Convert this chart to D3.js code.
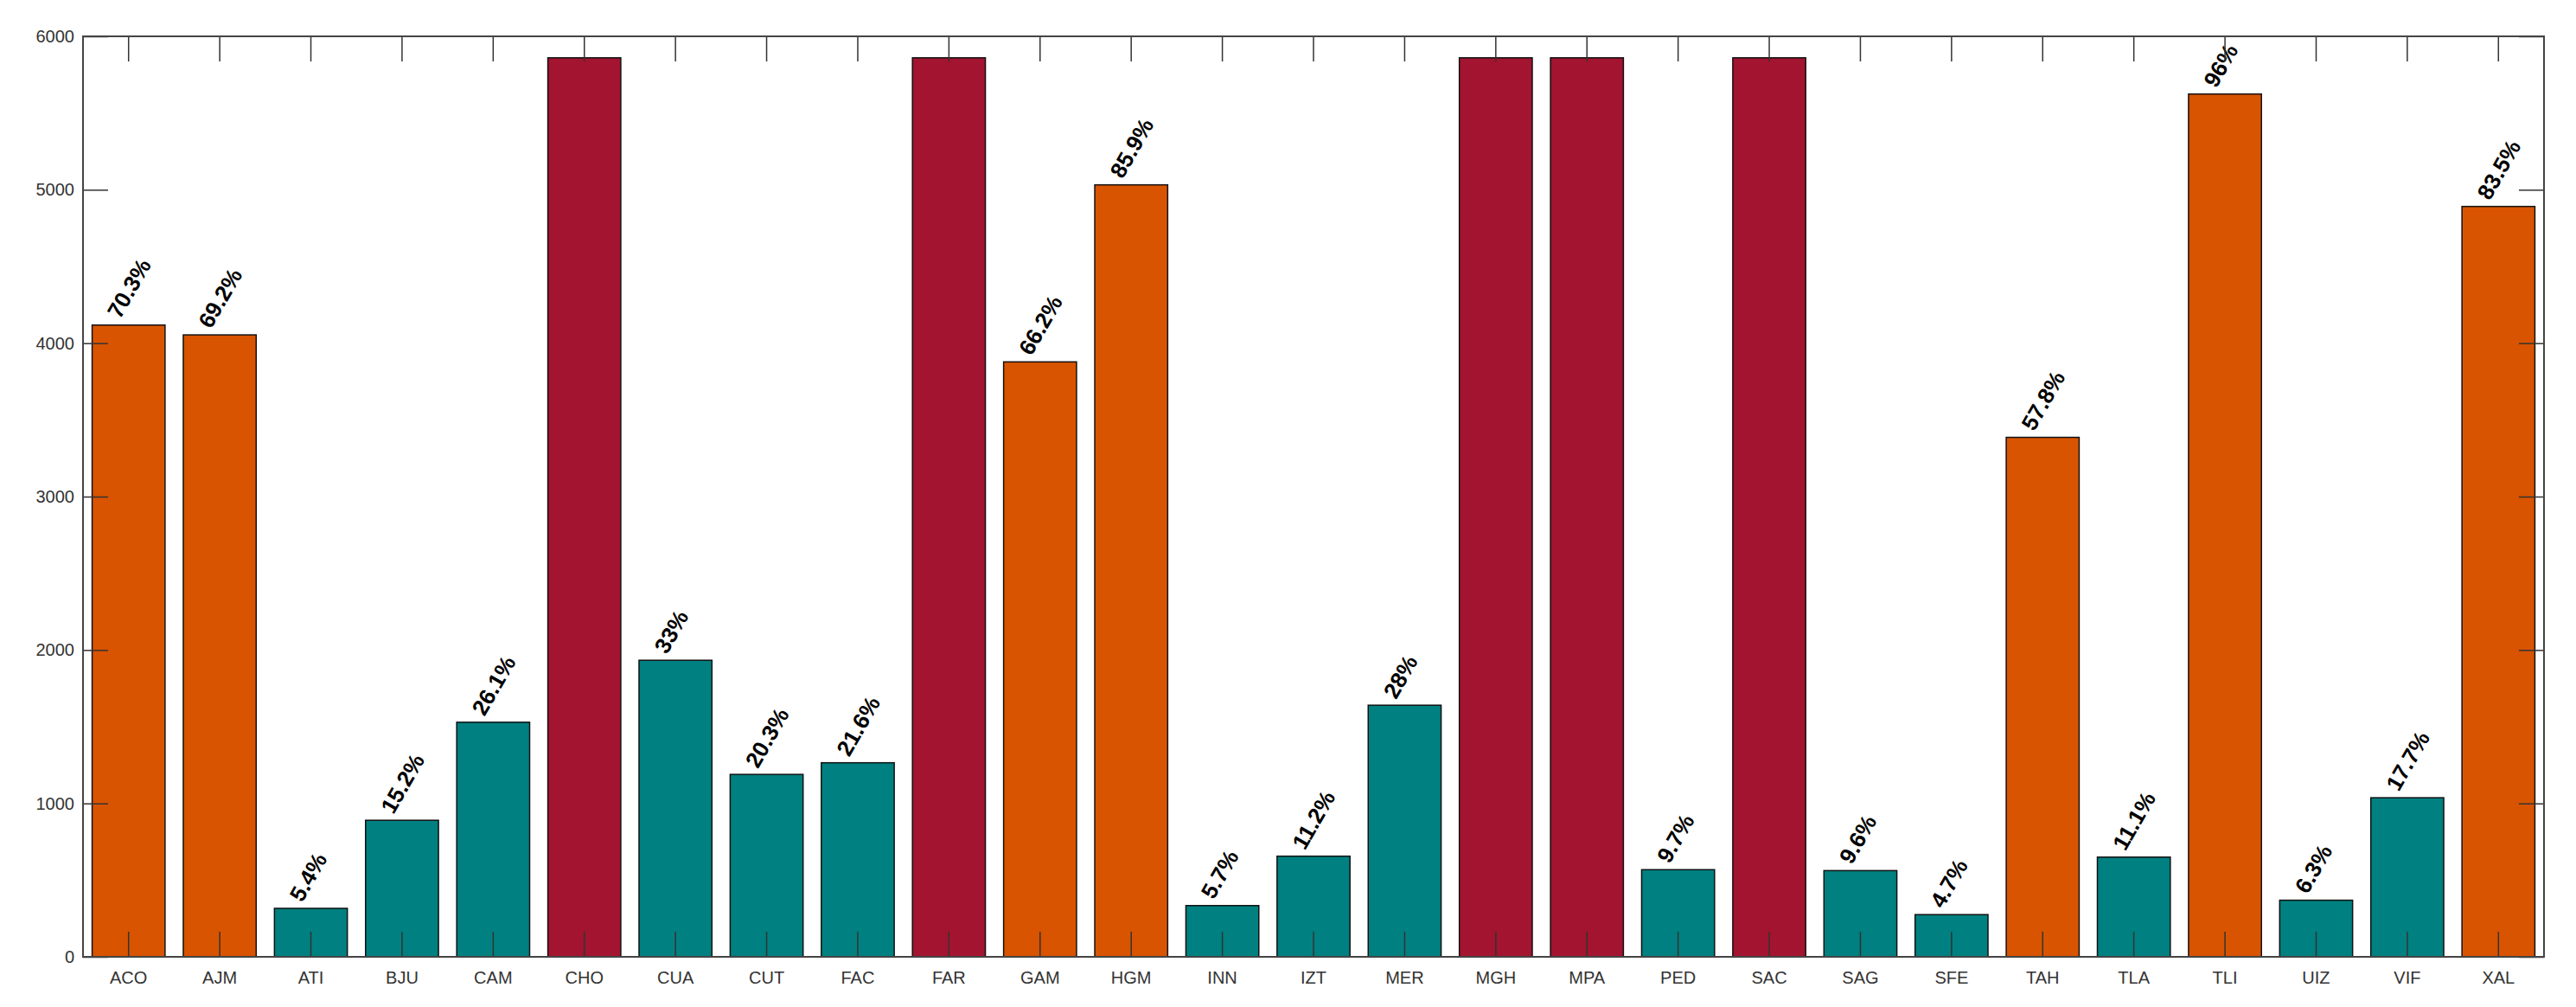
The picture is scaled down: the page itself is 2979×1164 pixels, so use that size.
<!DOCTYPE html>
<html>
<head>
<meta charset="utf-8">
<script src="https://cdn.jsdelivr.net/npm/d3@7"></script>
<style>
  body { margin: 0; background: #fff; }
  svg { display: block; font-family: "Liberation Sans", Arial, sans-serif; }
</style>
</head>
<body>
<svg id="chart" width="2979" height="1164"></svg>
<script>
// data
const categories = ["ACO", "AJM", "ATI", "BJU", "CAM", "CHO", "CUA", "CUT", "FAC", "FAR",
    "GAM", "HGM", "INN", "IZT", "MER", "MGH", "MPA", "PED", "SAC", "SAG",
    "SFE", "TAH", "TLA", "TLI", "UIZ", "VIF", "XAL"];
const values = [4118, 4054, 316, 890, 1529, 5860, 1933, 1189, 1265, 5860,
    3878, 5032, 334, 656, 1640, 5860, 5860, 568, 5860, 562,
    275, 3386, 650, 5624, 369, 1037, 4891];
// label text above each bar (null = no label, full bar)
const pctLabels = ["70.3%", "69.2%", "5.4%", "15.2%", "26.1%", null, "33%", "20.3%", "21.6%", null,
    "66.2%", "85.9%", "5.7%", "11.2%", "28%", null, null, "9.7%", null, "9.6%",
    "4.7%", "57.8%", "11.1%", "96%", "6.3%", "17.7%", "83.5%"];
// colour group for each bar
const groups = ["high", "high", "low", "low", "low", "full", "low", "low", "low", "full",
    "high", "high", "low", "low", "low", "full", "full", "low", "full", "low",
    "low", "high", "low", "high", "low", "low", "high"];
const yTicks = [0, 1000, 2000, 3000, 4000, 5000, 6000];

const colors = { high: "#D85400", low: "#008080", full: "#A2142F" };

const svg = d3.select("#chart");
const mLeft = 96, mRight = 2942, mTop = 42, mBottom = 1106;

const x = d3.scaleBand()
    .domain(categories)
    .range([mLeft, mRight])
    .paddingInner(0.2)
    .paddingOuter(0.1);

const y = d3.scaleLinear()
    .domain([0, 6000])
    .range([mBottom, mTop]);

const rows = categories.map((c, i) => ({ cat: c, val: values[i], label: pctLabels[i], grp: groups[i] }));

// bars
svg.append("g")
    .selectAll("rect")
    .data(rows)
    .enter()
    .append("rect")
    .attr("x", d => x(d.cat))
    .attr("y", d => y(d.val))
    .attr("width", x.bandwidth())
    .attr("height", d => y(0) - y(d.val))
    .attr("fill", d => colors[d.grp])
    .attr("stroke", "#111")
    .attr("stroke-width", 1.5);

// rotated percentage labels
svg.append("g")
    .selectAll("text")
    .data(rows.filter(d => d.label))
    .enter()
    .append("text")
    .attr("transform", d => `translate(${x(d.cat) + x.bandwidth() / 2 - 10},${y(d.val) - 6}) rotate(-60)`)
    .attr("font-size", 26)
    .attr("font-weight", "bold")
    .attr("fill", "#000")
    .text(d => d.label);

// axes (ticks point inward, drawn over bars)
const tickLen = 29;

const gLeft = svg.append("g")
    .attr("transform", `translate(${mLeft},0)`)
    .call(d3.axisLeft(y).tickValues(yTicks).tickFormat(d3.format("d"))
        .tickSizeInner(-tickLen).tickSizeOuter(0).tickPadding(10));

const gRight = svg.append("g")
    .attr("transform", `translate(${mRight},0)`)
    .call(d3.axisRight(y).tickValues(yTicks).tickSizeInner(-tickLen).tickSizeOuter(0).tickFormat(""));

const gTop = svg.append("g")
    .attr("transform", `translate(0,${mTop})`)
    .call(d3.axisTop(x).tickSizeInner(-tickLen).tickSizeOuter(0).tickFormat(""));

const gBottom = svg.append("g")
    .attr("transform", `translate(0,${mBottom})`)
    .call(d3.axisBottom(x).tickSizeInner(-tickLen).tickSizeOuter(0).tickPadding(17));

[gLeft, gRight, gTop, gBottom].forEach(g => {
    g.select(".domain").remove();
    g.selectAll(".tick line").attr("stroke", "#333").attr("stroke-width", 1.5);
    g.selectAll(".tick text")
        .attr("font-size", 20)
        .attr("font-family", "\"Liberation Sans\", Arial, sans-serif")
        .attr("fill", "#333");
});

// frame box
svg.append("rect")
    .attr("x", mLeft)
    .attr("y", mTop)
    .attr("width", mRight - mLeft)
    .attr("height", mBottom - mTop)
    .attr("fill", "none")
    .attr("stroke", "#444")
    .attr("stroke-width", 2);
</script>
</body>
</html>
